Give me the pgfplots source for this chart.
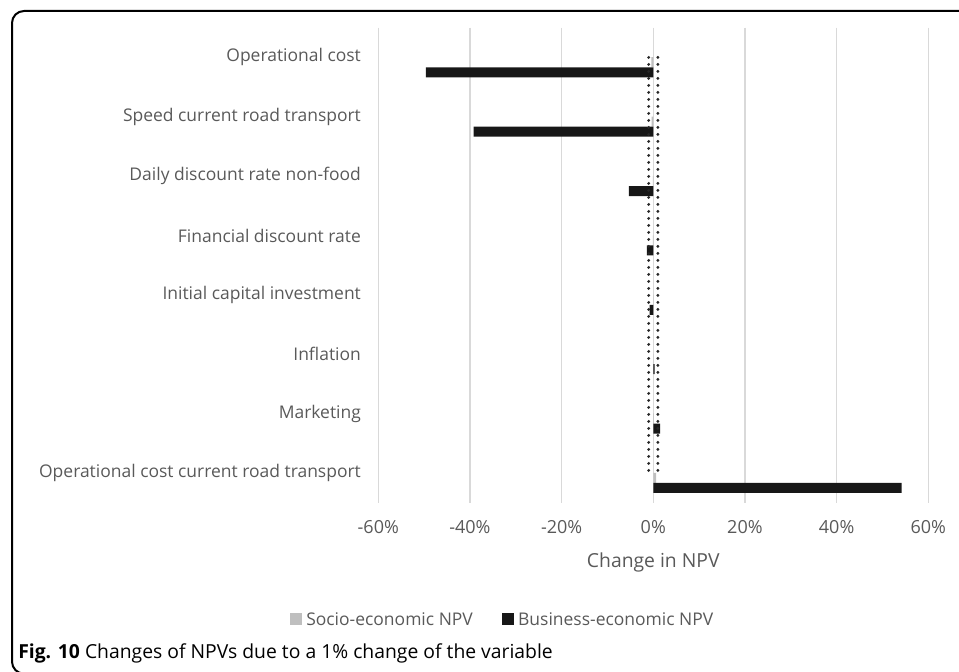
\documentclass[border=0pt]{standalone}
\usepackage{fontspec}
\setmainfont{Open Sans}
\usepackage{pgfplots}
\usepackage{pgfplotstable}
\pgfplotsset{compat=1.18}
\definecolor{txt}{HTML}{595959}
\definecolor{grd}{HTML}{D9D9D9}
\definecolor{blk}{HTML}{171717}
\definecolor{gry}{HTML}{BFBFBF}
\definecolor{dotc}{HTML}{262626}
\pgfplotstableread{
x y
-0.40 0.08
-0.35 1.08
-0.10 2.08
-0.10 3.08
-0.05 4.08
0.05 5.08
0.15 6.08
0.60 7.08
}\socio
\pgfplotstableread{
x y
-49.6 0.25
-39.2 1.25
-5.3 2.25
-1.4 3.25
-0.8 4.25
0.3 5.25
1.5 6.25
54.2 7.25
}\business
\begin{document}
\begin{tikzpicture}
\path[use as bounding box] (0,0) rectangle (719.25pt,503.25pt);
\draw[line width=1.5pt, rounded corners=9pt] (9pt,-2pt) rectangle (745pt,495pt);
\begin{axis}[
 at={(283.7pt,126.2pt)}, anchor=south west, scale only axis,
 width=412.5pt, height=356.25pt,
 xmin=-60, xmax=60, ymin=-0.5, ymax=7.5, y dir=reverse,
 xtick={-60,-40,...,60},
 xticklabels={-60\%,-40\%,-20\%,0\%,20\%,40\%,60\%},
 ytick={0,...,7},
 yticklabels={Operational cost,Speed current road transport,Daily discount rate non-food,Financial discount rate,Initial capital investment,Inflation,Marketing,Operational cost current road transport},
 xmajorgrids, grid style={grd, line width=1.1pt},
 axis line style={draw=none}, major tick length=0pt,
 yticklabel style={font=\fontsize{13.1}{15}\selectfont, text=txt, anchor=east, xshift=-9.5pt},
 xticklabel style={font=\fontsize{13.5}{15}\selectfont, text=txt, anchor=center, yshift=-18pt},
 xlabel={Change in NPV},
 xlabel style={at={(axis description cs:0.5,-0.125)}, anchor=center, font=\fontsize{14.5}{17}\selectfont, text=txt},
 legend columns=2,
 legend style={at={(axis description cs:0.227,-0.247)}, anchor=center, draw=none, fill=none,
   font=\fontsize{13.1}{15}\selectfont, text=txt,
   /tikz/every odd column/.append style={column sep=1pt},
   /tikz/every even column/.append style={column sep=20pt}},
 legend image code/.code={\fill[#1,draw=none] (0pt,-4pt) rectangle (9pt,5pt);},
]
\addplot[xbar, bar width=0.168, bar shift=0pt, fill=gry, draw=none] table[x=x,y=y] {\socio};
\addlegendentry{Socio-economic NPV}
\addplot[xbar, bar width=0.168, bar shift=0pt, fill=blk, draw=none] table[x=x,y=y] {\business};
\addlegendentry{Business-economic NPV}
\addplot[dotc, line width=2.4pt, dash pattern=on 0pt off 5.25pt, line cap=round, forget plot] coordinates {(-1,0) (-1,7)};
\addplot[dotc, line width=2.4pt, dash pattern=on 0pt off 5.25pt, line cap=round, forget plot] coordinates {(1,0) (1,7)};
\end{axis}
\node[anchor=base west, inner sep=0pt] at (13.5pt,9.75pt) {\fontsize{14.5}{17}\selectfont\textbf{Fig. 10} Changes of NPVs due to a 1\% change of the variable};
\end{tikzpicture}
\end{document}
